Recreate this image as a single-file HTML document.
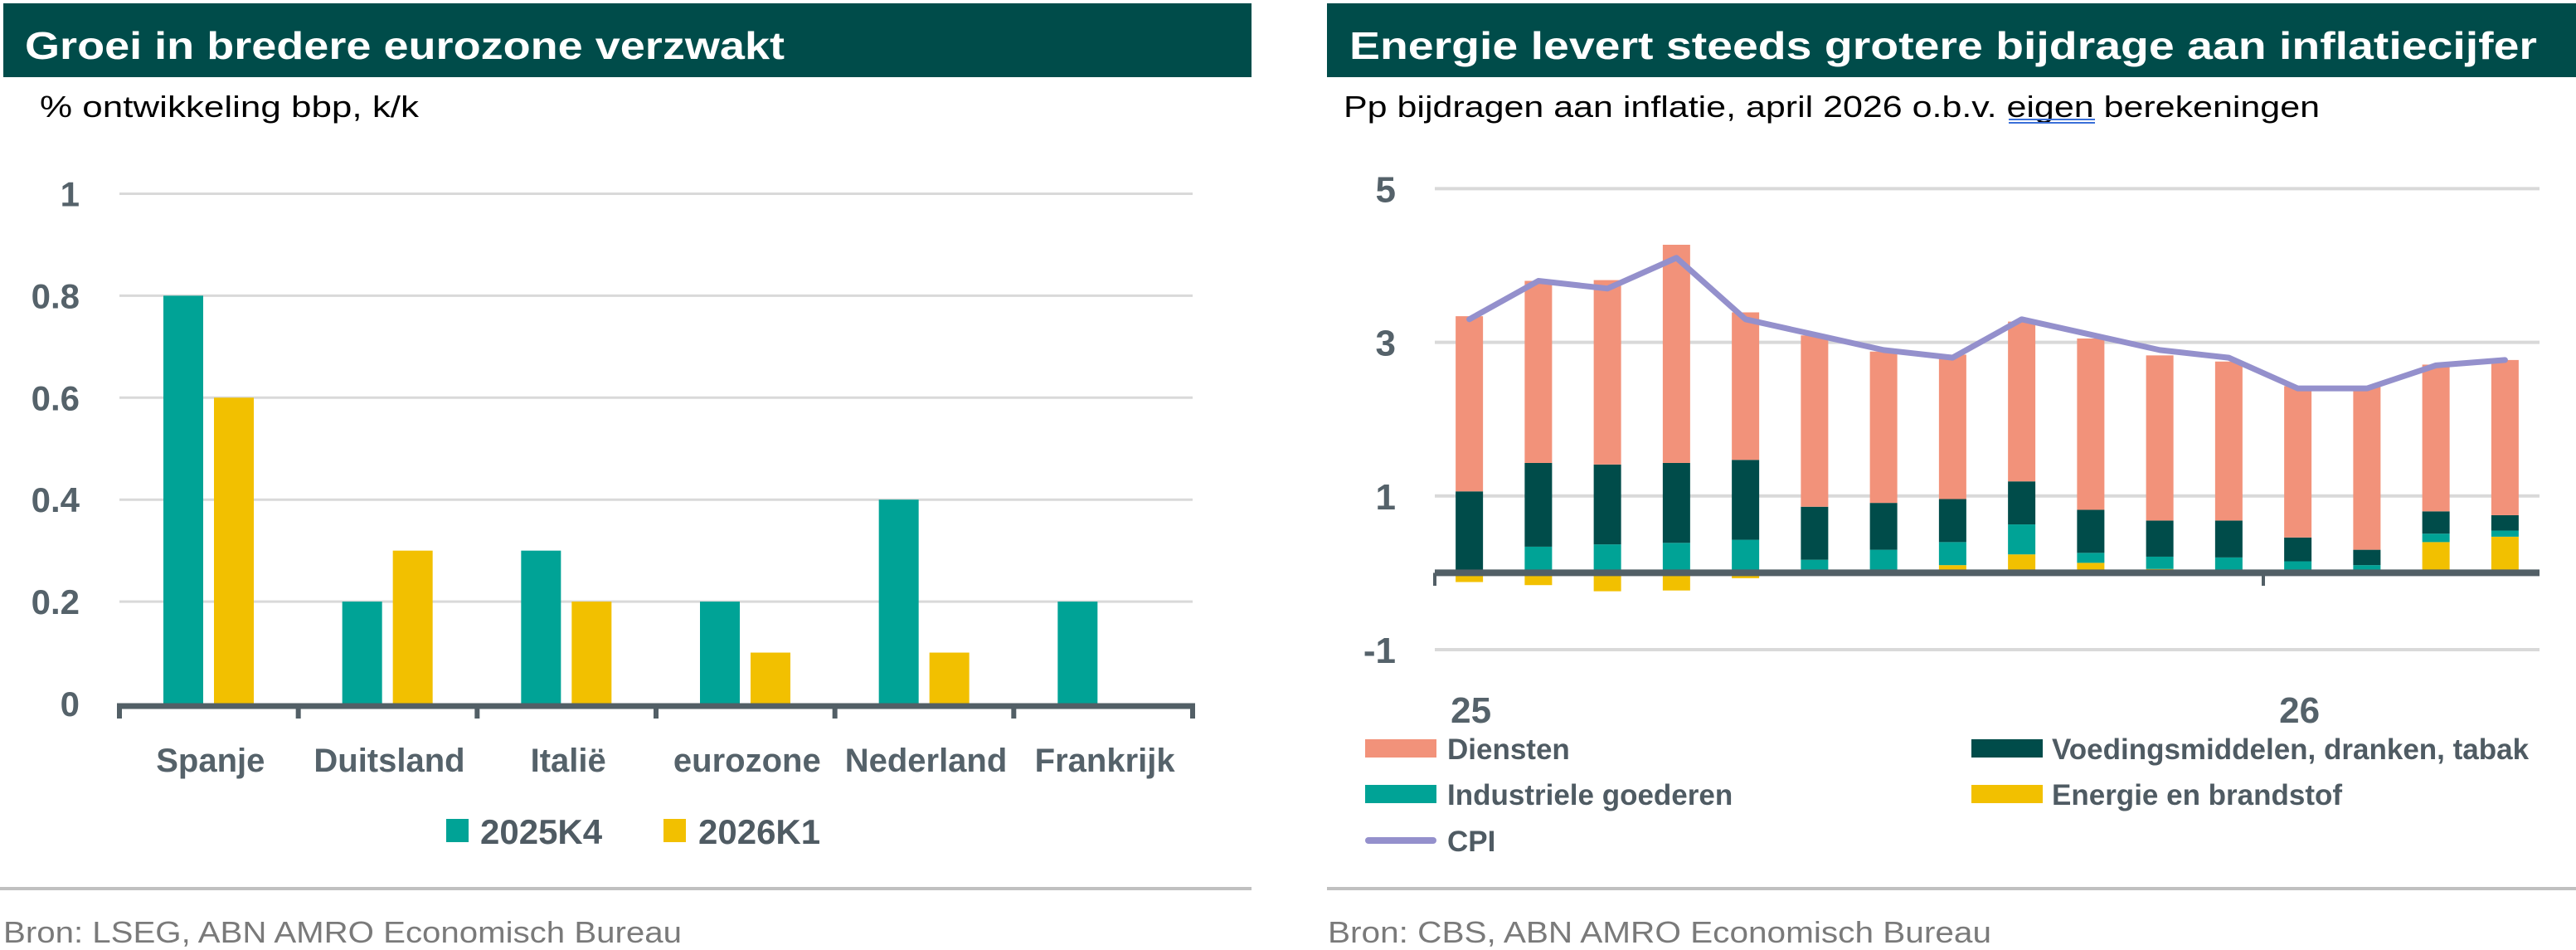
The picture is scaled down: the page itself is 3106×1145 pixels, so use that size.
<!DOCTYPE html>
<html><head><meta charset="utf-8"><style>
html,body{margin:0;padding:0;background:#fff;}
svg{display:block;font-family:"Liberation Sans",sans-serif;}
</style></head><body>
<svg id="svg" width="3106" height="1145" viewBox="0 0 3106 1145" xmlns="http://www.w3.org/2000/svg">
<g>
<rect x="4" y="4" width="1505" height="89" fill="#004c4a"/>
<text x="30" y="71" font-size="46" font-weight="bold" fill="#fff" textLength="916" lengthAdjust="spacingAndGlyphs">Groei in bredere eurozone verzwakt</text>
<text x="48" y="141" font-size="36" fill="#000" textLength="457" lengthAdjust="spacingAndGlyphs">% ontwikkeling bbp, k/k</text>
<g id="leftChart"></g>
<rect x="538" y="987" width="27" height="28" fill="#00a396"/>
<text x="579" y="1017" font-size="42" font-weight="bold" fill="#4f5b63">2025K4</text>
<rect x="800" y="987" width="27" height="28" fill="#f2c000"/>
<text x="842" y="1017" font-size="42" font-weight="bold" fill="#4f5b63">2026K1</text>
<rect x="0" y="1069" width="1509" height="4" fill="#c0c0c0"/>
<text x="4" y="1136" font-size="36" fill="#7a7a7a" textLength="818" lengthAdjust="spacingAndGlyphs">Bron: LSEG, ABN AMRO Economisch Bureau</text>
</g>
<g>
<rect x="1600" y="4" width="1506" height="89" fill="#004c4a"/>
<text x="1627" y="71" font-size="46" font-weight="bold" fill="#fff" textLength="1432" lengthAdjust="spacingAndGlyphs">Energie levert steeds grotere bijdrage aan inflatiecijfer</text>
<text x="1620" y="141" font-size="36" fill="#000" textLength="1177" lengthAdjust="spacingAndGlyphs">Pp bijdragen aan inflatie, april 2026 o.b.v.  eigen berekeningen</text>
<rect x="2422" y="143" width="104" height="2" fill="#3a6fd8"/>
<rect x="2422" y="147" width="104" height="2" fill="#3a6fd8"/>
<g id="rightChart"></g>
<rect x="1646" y="891" width="86" height="22" fill="#f2927a"/>
<text x="1745" y="915" font-size="35" font-weight="bold" fill="#4f5b63">Diensten</text>
<rect x="2377" y="891" width="86" height="22" fill="#004c4a"/>
<text x="2474" y="915" font-size="35" font-weight="bold" fill="#4f5b63">Voedingsmiddelen, dranken, tabak</text>
<rect x="1646" y="946" width="86" height="22" fill="#00a396"/>
<text x="1745" y="970" font-size="35" font-weight="bold" fill="#4f5b63">Industriele goederen</text>
<rect x="2377" y="946" width="86" height="22" fill="#f2c000"/>
<text x="2474" y="970" font-size="35" font-weight="bold" fill="#4f5b63">Energie en brandstof</text>
<line x1="1650" y1="1013" x2="1728" y2="1013" stroke="#9490cc" stroke-width="8" stroke-linecap="round"/>
<text x="1745" y="1026" font-size="35" font-weight="bold" fill="#4f5b63">CPI</text>
<rect x="1600" y="1069" width="1506" height="4" fill="#c0c0c0"/>
<text x="1601" y="1136" font-size="36" fill="#7a7a7a" textLength="800" lengthAdjust="spacingAndGlyphs">Bron: CBS, ABN AMRO Economisch Bureau</text>
</g>
</svg>
<script>
const countries = ["Spanje","Duitsland","Italië","eurozone","Nederland","Frankrijk"];
const gdp2025K4 = [0.8,0.2,0.3,0.2,0.4,0.2];
const gdp2026K1 = [0.6,0.3,0.2,0.1,0.1,null];
const leftTicks = [0,0.2,0.4,0.6,0.8,1];
const leftTickLabels = ["0","0.2","0.4","0.6","0.8","1"];

const months = ["2025-01","2025-02","2025-03","2025-04","2025-05","2025-06","2025-07","2025-08","2025-09","2025-10","2025-11","2025-12","2026-01","2026-02","2026-03","2026-04"];
const energie = [-0.12,-0.16,-0.24,-0.23,-0.07,0,0.02,0.10,0.24,0.13,0.05,0,0,0,0.40,0.47];
const industrie = [0.02,0.34,0.37,0.39,0.43,0.17,0.28,0.30,0.39,0.13,0.16,0.20,0.15,0.10,0.11,0.08];
const voeding = [1.04,1.09,1.04,1.04,1.04,0.69,0.61,0.56,0.56,0.56,0.47,0.48,0.31,0.20,0.29,0.20];
const diensten = [2.28,2.37,2.40,2.84,1.92,2.23,1.97,1.88,2.08,2.23,2.15,2.07,1.97,2.13,1.91,2.02];
const cpi = [3.3,3.8,3.7,4.1,3.3,3.1,2.9,2.8,3.3,3.1,2.9,2.8,2.4,2.4,2.7,2.77];
const rightTicks = [-1,1,3,5];
const rightTickLabels = ["-1","1","3","5"];
const yearLabels = ["25","26"];
const yearStartIndex = [0,12];

const NS="http://www.w3.org/2000/svg";
function mk(tag,attrs,parent,txt){const e=document.createElementNS(NS,tag);for(const k in attrs)e.setAttribute(k,attrs[k]);if(txt!==undefined)e.textContent=txt;parent.appendChild(e);return e;}

// LEFT CHART
const L=document.getElementById('leftChart');
const lx0=144,lx1=1438,ly0=848,lyScale=614.5;
const ly=v=>ly0-v*lyScale;
const band=(lx1-lx0)/countries.length;
leftTicks.forEach((t,i)=>{
  if(t!==0){const g=mk('line',{x1:lx0,x2:lx1,y1:ly(t),y2:ly(t),stroke:'#d9d9d9','stroke-width':3},L);
  
  }
  const tl=mk('text',{x:96,y:ly(t)+15,'text-anchor':'end','font-size':42,'font-weight':'bold',fill:'#55626a'},L,leftTickLabels[i]);
  
  
});
countries.forEach((c,i)=>{
  const bx=lx0+i*band;
  if(gdp2025K4[i]!=null){const r=mk('rect',{x:bx+53,y:ly(gdp2025K4[i]),width:48,height:ly0-ly(gdp2025K4[i]),fill:'#00a396'},L);
  
  }
  if(gdp2026K1[i]!=null){const r=mk('rect',{x:bx+114,y:ly(gdp2026K1[i]),width:48,height:ly0-ly(gdp2026K1[i]),fill:'#f2c000'},L);
  
  }
  const t=mk('text',{x:bx+band/2+2,y:930,'text-anchor':'middle','font-size':40,'font-weight':'bold',fill:'#55626a'},L,c);
  
  
});
const la=mk('line',{x1:lx0-3,x2:lx1+3,y1:ly0+3,y2:ly0+3,stroke:'#525f66','stroke-width':7},L);


for(let i=0;i<=countries.length;i++){
  const tk=mk('line',{x1:lx0+i*band,x2:lx0+i*band,y1:ly0,y2:866,stroke:'#525f66','stroke-width':6},L);
  
  
}

// RIGHT CHART
const R=document.getElementById('rightChart');
const rx0=1730,rx1=3062,ry0=690.4,ryScale=92.6;
const ry=v=>ry0-v*ryScale;
const rb=(rx1-rx0)/months.length;
const bw=33;
rightTicks.forEach((t,i)=>{
  const g=mk('line',{x1:rx0,x2:rx1,y1:ry(t),y2:ry(t),stroke:'#d9d9d9','stroke-width':4},R);
  
  
  const tl=mk('text',{x:1683,y:ry(t)+16,'text-anchor':'end','font-size':44,'font-weight':'bold',fill:'#55626a'},R,rightTickLabels[i]);
  
  
});
months.forEach((m,i)=>{
  const cx=rx0+rb*(i+0.5), x=cx-bw/2;
  let base=0;
  if(energie[i]<0){
    const r=mk('rect',{x:x,y:ry(0),width:bw,height:-energie[i]*ryScale,fill:'#f2c000'},R);
    
    
  } else if(energie[i]>0){
    const r=mk('rect',{x:x,y:ry(energie[i]),width:bw,height:energie[i]*ryScale,fill:'#f2c000'},R);
    
    
    base=energie[i];
  }
  [[industrie,'#00a396','industrie'],[voeding,'#004c4a','voeding'],[diensten,'#f2927a','diensten']].forEach(([arr,col,nm])=>{
    const v=arr[i];
    const r=mk('rect',{x:x,y:ry(base+v),width:bw,height:v*ryScale,fill:col},R);
    
    
    base+=v;
  });
});
const ra=mk('line',{x1:rx0,x2:rx1,y1:ry0,y2:ry0,stroke:'#525f66','stroke-width':8},R);


yearStartIndex.forEach((idx,k)=>{
  const tx=rx0+idx*rb;
  const tk=mk('line',{x1:tx,x2:tx,y1:ry0,y2:706,stroke:'#525f66','stroke-width':4},R);
  
  
  const tl=mk('text',{x:rx0+rb*(idx+0.5)+2,y:871,'text-anchor':'middle','font-size':44,'font-weight':'bold',fill:'#55626a'},R,yearLabels[k]);
  
  
});
const pts=cpi.map((v,i)=>(rx0+rb*(i+0.5))+','+ry(v)).join(' ');
const pl=mk('polyline',{points:pts,fill:'none',stroke:'#9490cc','stroke-width':7,'stroke-linejoin':'round','stroke-linecap':'round'},R);


</script>
</body></html>
